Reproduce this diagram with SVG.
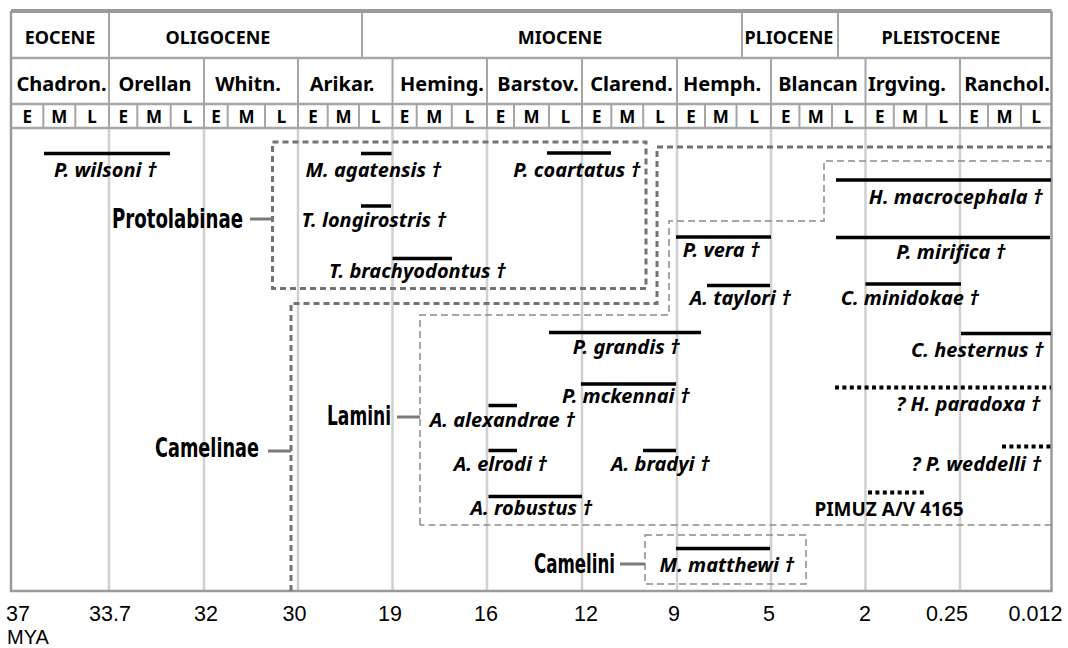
<svg xmlns="http://www.w3.org/2000/svg" width="1068" height="648" viewBox="0 0 1068 648">
<style>
.hdr{font-family:"Noto Sans","Open Sans","Liberation Sans",sans-serif;font-weight:bold;fill:#000;text-anchor:middle}
.ep{font-size:18px}
.st{font-size:20px}
.eml{font-size:17px}
.hl{stroke:#a6a6a6;stroke-width:2.5;fill:none}
.hs{stroke:#a6a6a6;stroke-width:2;fill:none}
.grid{stroke:#d0d0d0;stroke-width:2.5;fill:none}
.frame{stroke:#9a9a9a;stroke-width:2.5;fill:none}
.sp{font-family:"Noto Sans","Open Sans","Liberation Sans",sans-serif;font-weight:bold;font-style:italic;font-size:20px;text-anchor:middle;fill:#000}
.pim{font-family:"Noto Sans","Open Sans","Liberation Sans",sans-serif;font-weight:bold;font-size:19px;text-anchor:middle;fill:#000}
.rng{stroke:#000;stroke-width:3.5;fill:none}
.dot{stroke:#000;stroke-width:4;stroke-dasharray:4 3.4;fill:none}
.clade{font-family:"Liberation Sans Narrow","DejaVu Sans Condensed","Liberation Sans",sans-serif;font-weight:bold;font-size:26px;fill:#000}
.bthick{fill:none;stroke:#737373;stroke-width:3;stroke-dasharray:6 4}
.bthin{fill:none;stroke:#8c8c8c;stroke-width:1.5;stroke-dasharray:7 4}
.conn{stroke:#7a7a7a;stroke-width:3;fill:none}
.tick{font-family:"Liberation Sans",Arial,sans-serif;font-size:21.5px;text-anchor:middle;fill:#000}
.mya{font-family:"Liberation Sans",Arial,sans-serif;font-size:20px;fill:#000}
</style>
<rect x="0" y="0" width="1068" height="648" fill="#fff"/>

<g id="grid">
  <path class="grid" d="M109 128V591M204 128V591M298 128V591M392.5 128V591M487 128V591M582 128V591M677 128V591M771 128V591M865.5 128V591M960 128V591"/>
</g>

<g id="header">
  <path class="hl" d="M11 58H1051.5M11 104H1051.5M11 128H1051.5"/>
  <path class="hs" d="M109 13V58M362 13V58M742 13V58M838 13V58"/>
  <path class="hs" d="M109 58V128M204 58V128M298 58V128M392.5 58V128M487 58V128M582 58V128M677 58V128M771 58V128M865.5 58V128M960 58V128"/>
  <path class="hs" d="M43.3 104V128M75.3 104V128M137.3 104V128M170.7 104V128M227.7 104V128M265 104V128M327.7 104V128M359 104V128M416.7 104V128M451.8 104V128M514 104V128M549 104V128M611.3 104V128M643.2 104V128M705 104V128M736.5 104V128M799.4 104V128M832 104V128M893.8 104V128M926.4 104V128M988 104V128M1021 104V128"/>
  <g class="hdr ep">
    <text x="60" y="43.5">EOCENE</text>
    <text x="218" y="43.5">OLIGOCENE</text>
    <text x="560" y="43.5">MIOCENE</text>
    <text x="789" y="43.5">PLIOCENE</text>
    <text x="941" y="43.5">PLEISTOCENE</text>
  </g>
  <g class="hdr st">
    <text x="61.5" y="91">Chadron.</text>
    <text x="155" y="91">Orellan</text>
    <text x="248" y="91">Whitn.</text>
    <text x="342" y="91">Arikar.</text>
    <text x="442" y="91">Heming.</text>
    <text x="538" y="91">Barstov.</text>
    <text x="631.5" y="91">Clarend.</text>
    <text x="722" y="91">Hemph.</text>
    <text x="818" y="91">Blancan</text>
    <text x="907" y="91">Irgving.</text>
    <text x="1007" y="91">Ranchol.</text>
  </g>
  <g class="hdr eml">
    <text x="27.2" y="122.5">E</text><text x="59.3" y="122.5">M</text><text x="92" y="122.5">L</text>
    <text x="123.2" y="122.5">E</text><text x="154" y="122.5">M</text><text x="187.4" y="122.5">L</text>
    <text x="215.9" y="122.5">E</text><text x="246.4" y="122.5">M</text><text x="281.5" y="122.5">L</text>
    <text x="312.9" y="122.5">E</text><text x="343.4" y="122.5">M</text><text x="375.8" y="122.5">L</text>
    <text x="404.6" y="122.5">E</text><text x="434.3" y="122.5">M</text><text x="469.4" y="122.5">L</text>
    <text x="500.5" y="122.5">E</text><text x="531.5" y="122.5">M</text><text x="565.5" y="122.5">L</text>
    <text x="596.7" y="122.5">E</text><text x="627.3" y="122.5">M</text><text x="660.1" y="122.5">L</text>
    <text x="691" y="122.5">E</text><text x="720.8" y="122.5">M</text><text x="754.3" y="122.5">L</text>
    <text x="785.7" y="122.5">E</text><text x="815.7" y="122.5">M</text><text x="848.8" y="122.5">L</text>
    <text x="879.7" y="122.5">E</text><text x="910.1" y="122.5">M</text><text x="943.2" y="122.5">L</text>
    <text x="974" y="122.5">E</text><text x="1004.5" y="122.5">M</text><text x="1036.3" y="122.5">L</text>
  </g>
</g>

<g id="frame">
  <path stroke="#9a9a9a" stroke-width="4" fill="none" d="M11 11H1051.5"/>
  <path class="frame" d="M11 11V591H1051.5V11"/>
</g>

<g id="protolabinae">
  <rect class="bthick" x="272.5" y="142" width="373.5" height="146.5"/>
  <text class="clade" x="112" y="228" textLength="131" lengthAdjust="spacingAndGlyphs">Protolabinae</text>
</g>
<g id="camelinae">
  <path class="bthick" d="M291 591V303.5H657V147H1051.5"/>
  <text class="clade" x="155" y="457" textLength="104" lengthAdjust="spacingAndGlyphs">Camelinae</text>
</g>
<g id="lamini">
  <path class="bthin" d="M420 525V315H669V221H824V161H1051.5M1051.5 525H420"/>
  <text class="clade" x="327" y="425" textLength="64" lengthAdjust="spacingAndGlyphs">Lamini</text>
</g>
<g id="camelini">
  <rect class="bthin" x="645" y="535" width="161" height="49"/>
  <text class="clade" x="534" y="573" textLength="81" lengthAdjust="spacingAndGlyphs">Camelini</text>
</g>

<g id="connectors">
  <path class="conn" d="M250 219H272.5"/>
  <path class="conn" d="M268 451H291"/>
  <path class="conn" d="M397 417H420"/>
  <path class="conn" d="M620 564H645"/>
</g>

<g id="p-wilsoni"><path class="rng" d="M44 153.5H170"/><text class="sp" x="105.5" y="177">P. wilsoni †</text></g>
<g id="m-agatensis"><path class="rng" d="M361 153.5H391.5"/><text class="sp" x="373.5" y="177">M. agatensis †</text></g>
<g id="p-coartatus"><path class="rng" d="M547 153H611"/><text class="sp" x="577" y="177">P. coartatus †</text></g>
<g id="t-longirostris"><path class="rng" d="M361 206H391"/><text class="sp" x="374" y="227">T. longirostris †</text></g>
<g id="t-brachyodontus"><path class="rng" d="M392.5 258.5H452"/><text class="sp" x="417.5" y="278">T. brachyodontus †</text></g>
<g id="h-macrocephala"><path class="rng" d="M836 180H1051"/><text class="sp" x="956" y="204">H. macrocephala †</text></g>
<g id="p-vera"><path class="rng" d="M676 237H771"/><text class="sp" x="721.5" y="257">P. vera †</text></g>
<g id="p-mirifica"><path class="rng" d="M836 237.5H1050"/><text class="sp" x="951" y="259">P. mirifica †</text></g>
<g id="a-taylori"><path class="rng" d="M707 285.5H770"/><text class="sp" x="740.5" y="305">A. taylori †</text></g>
<g id="c-minidokae"><path class="rng" d="M865.5 284H961"/><text class="sp" x="910" y="305">C. minidokae †</text></g>
<g id="p-grandis"><path class="rng" d="M549 332.5H701"/><text class="sp" x="626.5" y="354">P. grandis †</text></g>
<g id="c-hesternus"><path class="rng" d="M961 333.5H1051"/><text class="sp" x="977.5" y="357">C. hesternus †</text></g>
<g id="p-mckennai"><path class="rng" d="M581 384H676"/><text class="sp" x="626" y="403">P. mckennai †</text></g>
<g id="h-paradoxa"><path class="dot" d="M835 387.5H1051"/><text class="sp" x="968.5" y="411">? H. paradoxa †</text></g>
<g id="a-alexandrae"><path class="rng" d="M488.5 405.5H517"/><text class="sp" x="502.5" y="427">A. alexandrae †</text></g>
<g id="a-elrodi"><path class="rng" d="M488.5 450.5H517"/><text class="sp" x="500.5" y="471">A. elrodi †</text></g>
<g id="a-bradyi"><path class="rng" d="M643 450.5H676"/><text class="sp" x="660.5" y="471">A. bradyi †</text></g>
<g id="p-weddelli"><path class="dot" d="M1002 446.5H1051"/><text class="sp" x="976.5" y="471">? P. weddelli †</text></g>
<g id="a-robustus"><path class="rng" d="M488.5 496.5H582"/><text class="sp" x="531.5" y="515">A. robustus †</text></g>
<g id="pimuz"><path class="dot" d="M868 492.5H924"/><text class="pim" x="889" y="516">PIMUZ A/V 4165</text></g>
<g id="m-matthewi"><path class="rng" d="M676 548.5H770"/><text class="sp" x="727" y="572">M. matthewi †</text></g>

<g id="axis">
  <text class="tick" x="18" y="620.5">37</text>
  <text class="tick" x="110" y="620.5">33.7</text>
  <text class="tick" x="206" y="620.5">32</text>
  <text class="tick" x="294.5" y="620.5">30</text>
  <text class="tick" x="390" y="620.5">19</text>
  <text class="tick" x="486" y="620.5">16</text>
  <text class="tick" x="586" y="620.5">12</text>
  <text class="tick" x="674" y="620.5">9</text>
  <text class="tick" x="769" y="620.5">5</text>
  <text class="tick" x="865" y="620.5">2</text>
  <text class="tick" x="947" y="620.5">0.25</text>
  <text class="tick" x="1035.5" y="620.5">0.012</text>
  <text class="mya" x="7" y="643.5">MYA</text>
</g>
</svg>
